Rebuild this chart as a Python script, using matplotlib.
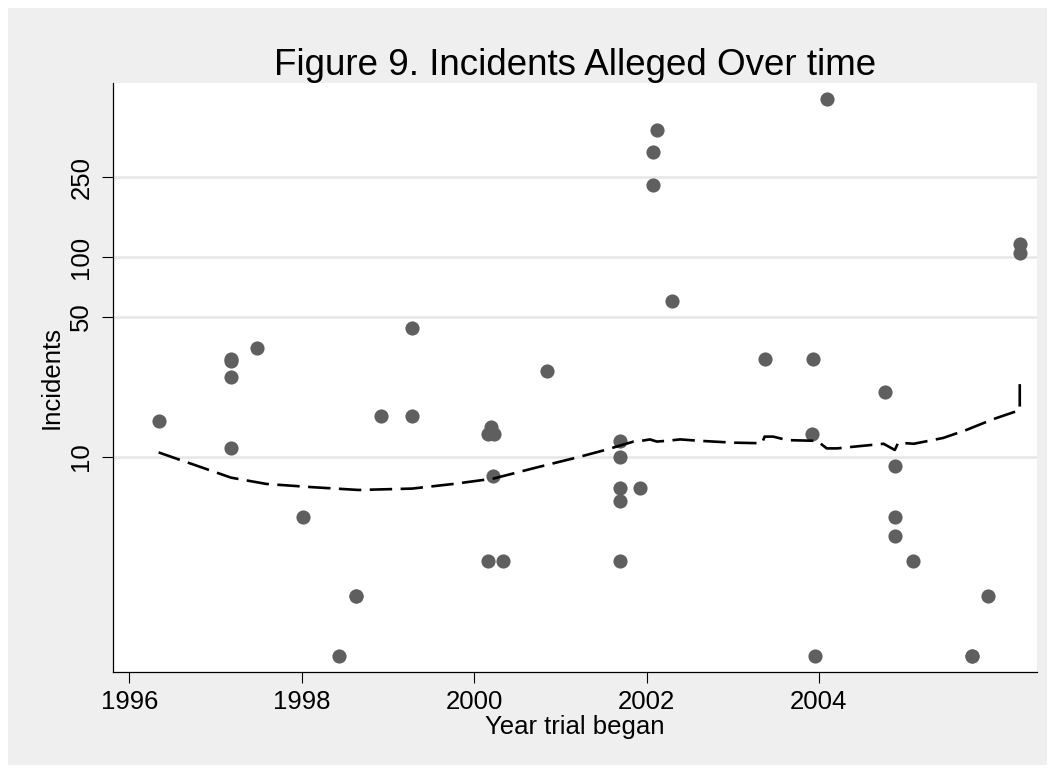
import numpy as np
import matplotlib.pyplot as plt
from matplotlib.patches import Rectangle

plt.rcParams['font.family'] = ['Liberation Sans', 'DejaVu Sans']

# trials: year the trial began, number of incidents alleged
year = [1996.34, 1997.18, 1997.18, 1997.18, 1997.18, 1997.48, 1998.02, 1998.43,
        1998.63, 1998.63, 1998.92, 1999.28, 1999.28, 2000.16, 2000.23, 2000.20,
        2000.22, 2000.16, 2000.34, 2000.84, 2001.69, 2001.69, 2001.69, 2001.69,
        2001.69, 2001.93, 2002.07, 2002.07, 2002.12, 2002.29, 2003.37, 2003.93,
        2003.92, 2003.96, 2004.09, 2004.77, 2004.88, 2004.88, 2004.88, 2005.09,
        2005.78, 2005.78, 2005.96, 2006.33, 2006.33]
incidents = [15, 31, 30, 25, 11, 35, 5, 1,
             2, 2, 16, 16, 44, 13, 13, 14,
             8, 3, 3, 27, 12, 10, 7, 6,
             3, 7, 228, 335, 430, 60, 31, 31,
             13, 1, 617, 21, 9, 5, 4, 3,
             1, 1, 2, 116, 105]

# lowess smooth as drawn in the original
smooth_year = [1996.34, 1997.18, 1997.59, 1998.13, 1998.66, 1999.28, 1999.76, 2000.22,
               2000.69, 2001.23, 2001.52, 2001.85, 2001.94, 2002.04, 2002.12, 2002.23,
               2002.39, 2002.62, 2003.01, 2003.34, 2003.37, 2003.47, 2003.63, 2003.97,
               2003.99, 2004.09, 2004.21, 2004.48, 2004.75, 2004.88, 2004.92, 2005.10,
               2005.44, 2005.71, 2006.02, 2006.33, 2006.33]
smooth_val = [10.5, 7.85, 7.3, 7.03, 6.81, 6.92, 7.3, 7.76,
              8.75, 10.0, 10.8, 11.9, 12.0, 12.2, 11.9, 12.0,
              12.2, 12.0, 11.75, 11.67, 12.6, 12.6, 12.1, 12.0,
              11.9, 11.0, 11.0, 11.3, 11.6, 10.8, 11.75, 11.6,
              12.4, 13.6, 15.4, 17.1, 23.3]

xticks = [1996, 1998, 2000, 2002, 2004]
yticks = [10, 50, 100, 250]

W, H = 1055, 773
fig = plt.figure(figsize=(W / 100, H / 100), dpi=100, facecolor='white')
bg = Rectangle((8 / W, 8 / H), 1 - 16 / W, 1 - 16 / H,
               transform=fig.transFigure, facecolor='#efefef',
               edgecolor='none', zorder=-10)
fig.add_artist(bg)
ax = fig.add_axes([112.7 / W, (H - 672) / H, (1037 - 112.7) / W, (672 - 83) / H])
ax.set_facecolor('white')

ax.scatter(year, incidents, s=104, color='#5f5f5f', linewidths=0, zorder=3)
ax.plot(smooth_year, smooth_val, color='black', linewidth=1.9,
        dashes=(8.5, 3.2), zorder=4)

ax.set_yscale('log')
ax.set_xlim(1995.807, 2006.53)
ax.set_ylim(0.835, 743)

ax.set_xticks(xticks)
ax.set_xticklabels([str(t) for t in xticks])
ax.set_yticks(yticks)
ax.set_yticklabels([str(t) for t in yticks])
ax.yaxis.set_minor_locator(plt.NullLocator())
ax.xaxis.set_minor_locator(plt.NullLocator())
plt.setp(ax.get_yticklabels(), rotation=90, va='center')

ax.tick_params(axis='both', direction='out', length=8, width=0.8,
               labelsize=18.5, colors='black')
ax.tick_params(axis='x', pad=5)
ax.tick_params(axis='y', pad=6)

ax.grid(axis='y', color='#e6e6e6', linewidth=1.8, zorder=0)
ax.set_axisbelow(True)

for side in ['top', 'right']:
    ax.spines[side].set_visible(False)
for side in ['left', 'bottom']:
    ax.spines[side].set_linewidth(0.9)
    ax.spines[side].set_color('black')

ax.set_title('Figure 9. Incidents Alleged Over time', fontsize=26.5, pad=6)
ax.set_xlabel('Year trial began', fontsize=18.5, labelpad=1)
ax.set_ylabel('Incidents', fontsize=18.5, labelpad=4)

fig.savefig('out.png', dpi=100, facecolor=fig.get_facecolor())
